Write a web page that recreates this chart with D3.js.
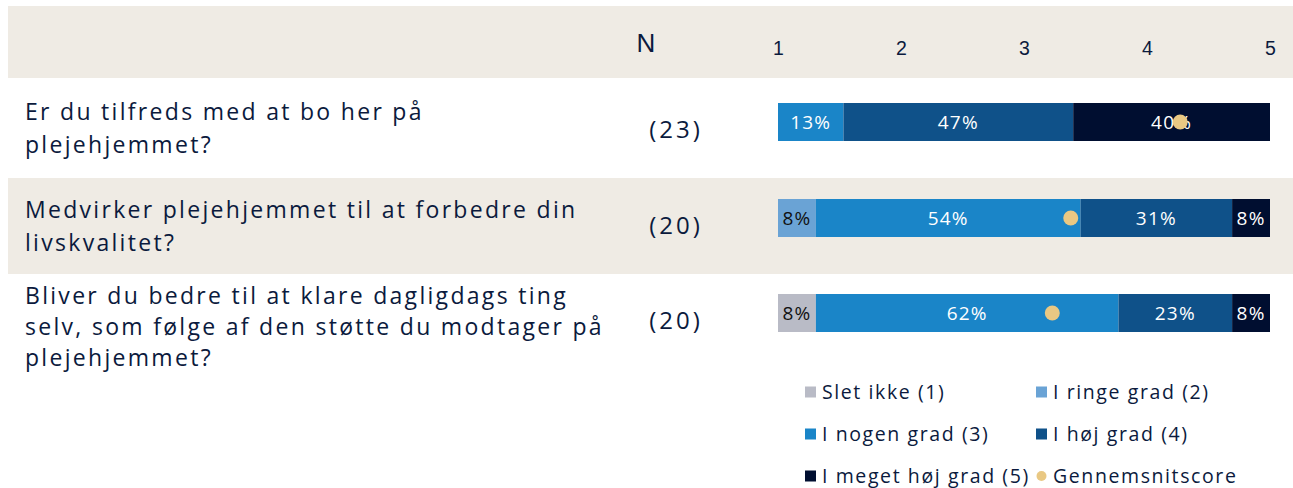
<!DOCTYPE html>
<html>
<head>
<meta charset="utf-8">
<script src="https://cdn.jsdelivr.net/npm/d3@7"></script>
<style>
  body { margin: 0; background: #fff; }
  svg { display: block; font-family: "Open Sans", sans-serif; }
</style>
</head>
<body>
<div id="chart"></div>
<script>
// spørgsmål og svarfordeling (pct.)
const questions = [
  ["Er du tilfreds med at bo her på", "plejehjemmet?"],
  ["Medvirker plejehjemmet til at forbedre din", "livskvalitet?"],
  ["Bliver du bedre til at klare dagligdags ting", "selv, som følge af den støtte du modtager på", "plejehjemmet?"]
];
const nValues = [23, 20, 20];
const levels = ["Slet ikke (1)", "I ringe grad (2)", "I nogen grad (3)", "I høj grad (4)", "I meget høj grad (5)"];
const shares = [
  [0, 0, 13.3, 46.7, 40.0],
  [0, 7.7, 53.8, 30.8, 7.7],
  [7.7, 0, 61.5, 23.1, 7.7]
];
const means = [4.27, 3.38, 3.23];
const ticks = [1, 2, 3, 4, 5];

const colors = ["#b9bbc6", "#6aa3d5", "#1a85c8", "#0f5189", "#000e30"];
const darkText = [true, true, false, false, false];
const ink = "#0b1a3d";

const W = 1293, H = 488;
const svg = d3.select("#chart").append("svg")
  .attr("width", W).attr("height", H);

// baggrundsbånd
svg.append("rect").attr("x", 8).attr("y", 6).attr("width", W - 8).attr("height", 72).attr("fill", "#efebe4");
svg.append("rect").attr("x", 8).attr("y", 178).attr("width", W - 8).attr("height", 96).attr("fill", "#efebe4");

const xScore = d3.scaleLinear().domain([1, 5]).range([778, 1270]);
const xPct = d3.scaleLinear().domain([0, 100]).range([778, 1270]);
const rowY = [122, 218, 313];      // midten af hver bjælke
const textY = [120, 218, 304];     // første tekstlinje (baseline)
const lineH = [32.5, 33, 31];
const barH = 38;

// akse 1-5
const axis = svg.append("g")
  .attr("transform", "translate(0,55)")
  .call(d3.axisTop(xScore).tickValues(ticks).tickFormat(d3.format("d")).tickSize(0).tickPadding(0));
axis.select(".domain").remove();
axis.selectAll("text")
  .attr("font-family", "Liberation Sans, Arial, sans-serif")
  .attr("font-size", 19.5).attr("fill", ink);

svg.append("text").attr("x", 646).attr("y", 52).attr("text-anchor", "middle")
  .attr("font-family", "Liberation Sans, Arial, sans-serif")
  .attr("font-size", 26).attr("fill", ink).text("N");

// spørgsmålstekster
questions.forEach((lines, i) => {
  const t = svg.append("text").attr("font-size", 23).attr("letter-spacing", 2.3).attr("fill", ink);
  lines.forEach((l, j) => {
    t.append("tspan").attr("x", 25).attr("y", textY[i] + j * lineH[i]).text(l);
  });
  svg.append("text").attr("x", 676).attr("y", rowY[i] + 16).attr("text-anchor", "middle")
    .attr("font-size", 24).attr("letter-spacing", 3).attr("fill", ink).text(`(${nValues[i]})`);
});

// stablede bjælker
shares.forEach((row, i) => {
  let acc = 0;
  const segs = row.map((v, k) => {
    const s = { k, v, x0: acc, x1: acc + v };
    acc += v;
    return s;
  }).filter(s => s.v > 0);

  const g = svg.append("g");
  g.selectAll("rect").data(segs).enter().append("rect")
    .attr("x", d => xPct(d.x0))
    .attr("y", rowY[i] - barH / 2)
    .attr("width", d => xPct(d.x1) - xPct(d.x0))
    .attr("height", barH)
    .attr("fill", d => colors[d.k]);

  g.selectAll("text").data(segs).enter().append("text")
    .attr("x", d => (xPct(d.x0) + xPct(d.x1)) / 2)
    .attr("y", rowY[i] + 7)
    .attr("text-anchor", "middle")
    .attr("font-size", 19)
    .attr("letter-spacing", 1.2)
    .attr("fill", d => darkText[d.k] ? "#111" : "#fff")
    .text(d => Math.round(d.v) + "%");

  svg.append("circle")
    .attr("cx", xScore(means[i]))
    .attr("cy", rowY[i])
    .attr("r", 7.5)
    .attr("fill", "#e9c883");
});

// legende
const legendItems = levels.map((l, k) => ({ label: l, color: colors[k], dot: false }))
  .concat([{ label: "Gennemsnitscore", color: "#e9c883", dot: true }]);
const lg = svg.append("g");
legendItems.forEach((d, i) => {
  const col = i % 2, row = Math.floor(i / 2);
  const x = col === 0 ? 805 : 1036;
  const y = 392 + row * 42;
  if (d.dot) {
    lg.append("circle").attr("cx", x + 5.5).attr("cy", y).attr("r", 5).attr("fill", d.color);
  } else {
    lg.append("rect").attr("x", x).attr("y", y - 5.5).attr("width", 11).attr("height", 11).attr("fill", d.color);
  }
  lg.append("text").attr("x", x + 17).attr("y", y + 7)
    .attr("font-size", 19.5).attr("letter-spacing", 1.6).attr("fill", ink).text(d.label);
});
</script>
</body>
</html>
